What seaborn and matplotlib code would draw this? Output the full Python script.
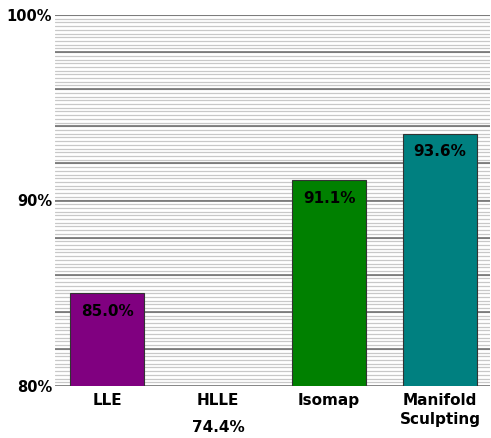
import numpy as np
import pandas as pd
import seaborn as sns
import matplotlib
matplotlib.use('Agg')
import matplotlib.pyplot as plt

# values
methods = ['LLE', 'HLLE', 'Isomap', 'Manifold\nSculpting']
accuracy = [85.0, 74.4, 91.1, 93.6]
bar_colors = ['#800080', '#800080', '#008000', '#008080']

df = pd.DataFrame({'method': methods, 'accuracy': accuracy})

sns.set_style('white')
plt.rcParams['font.family'] = ['DejaVu Sans']
plt.rcParams['text.color'] = 'black'
plt.rcParams['xtick.color'] = 'black'
plt.rcParams['ytick.color'] = 'black'

fig = plt.figure(figsize=(4.91, 4.38), dpi=100)
ax = fig.add_axes([55 / 491, 1 - 386 / 438, 435 / 491, 371 / 438])

# background grid: minor every 0.2%, major every 2%
for y in np.arange(80, 100.01, 0.2):
    ax.axhline(y, color='#c8c8c8', lw=0.9, zorder=0)
for y in np.arange(80, 100.01, 2):
    ax.axhline(y, color='#666666', lw=1.1, zorder=0.5)

sns.barplot(data=df, x='method', y='accuracy', hue='method',
            palette=bar_colors, legend=False, width=0.67,
            edgecolor='#333333', linewidth=0.8, saturation=1, ax=ax, zorder=2)

ax.set_ylim(80, 100)
ax.set_xlim(-0.47, 3.45)
ax.set_yticks([80, 90, 100])
ax.set_yticklabels(['80%', '90%', '100%'], fontweight='bold', fontsize=10.5)
ax.set_xticks(range(len(methods)))
ax.set_xticklabels(methods, fontweight='bold', fontsize=11, linespacing=1.35)
ax.tick_params(axis='both', length=0, pad=2)
ax.tick_params(axis='x', pad=5)
ax.set_xlabel('')
ax.set_ylabel('')
for s in ax.spines.values():
    s.set_visible(False)

for i, v in enumerate(accuracy):
    if v >= 80:
        ax.annotate(f'{v:.1f}%', xy=(i, v), xytext=(0, -13),
                    textcoords='offset points', ha='center', va='center',
                    fontweight='bold', fontsize=11, color='black', zorder=3)
    else:
        ax.annotate(f'{v:.1f}%', xy=(i, 80), xytext=(0, -30),
                    textcoords='offset points', ha='center', va='center',
                    fontweight='bold', fontsize=11, color='black',
                    annotation_clip=False)

fig.savefig('out.png', dpi=100)
